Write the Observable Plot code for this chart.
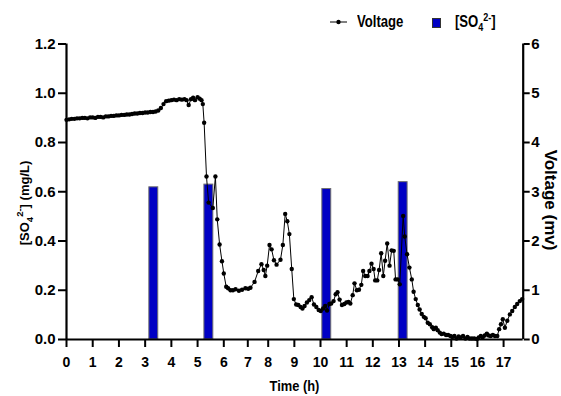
<!DOCTYPE html>
<html><head><meta charset="utf-8">
<script src="https://cdn.jsdelivr.net/npm/d3@7"></script>
<script src="https://cdn.jsdelivr.net/npm/@observablehq/plot@0.6"></script>
<style>
body{margin:0;background:#fff;}
#wrap{position:relative;width:561px;height:396px;overflow:hidden;font-family:"Liberation Sans",Arial,sans-serif;font-weight:bold;color:#000;}
.lg{position:absolute;font-size:16px;line-height:16px;white-space:nowrap;transform:scaleX(0.82);transform-origin:0 0;}
.lg sub,.lg sup{font-size:11px;line-height:0;}
</style></head>
<body><div id="wrap"></div>
<script>
// Sulfate concentration bars
const barTime = [3.33, 5.43, 10.24, 13.16];
const barSO4  = [0.618, 0.629, 0.611, 0.639];

// Voltage series (mV)
const voltTime = [
 0,0.1,0.2,0.3,0.4,0.5,0.6,0.7,0.8,0.9,1.0,1.1,1.2,1.3,1.4,1.5,1.6,1.7,1.8,1.9,
 2.0,2.1,2.2,2.3,2.4,2.5,2.6,2.7,2.8,2.9,3.0,3.1,3.2,3.3,3.4,3.5,3.6,3.7,3.8,3.9,
 4.0,4.1,4.2,4.3,4.4,4.5,4.58,4.66,4.75,4.83,4.9,5.0,5.08,5.15,5.2,5.25,5.34,5.42,5.58,5.68,
 5.75,5.84,5.93,6.0,6.1,6.18,6.28,6.38,6.49,6.63,6.76,6.9,7.02,7.13,7.33,7.51,7.67,7.78,7.86,7.95,
 8.05,8.13,8.22,8.32,8.47,8.56,8.65,8.73,8.81,8.9,8.98,9.07,9.15,9.24,9.31,9.39,9.48,9.57,9.66,9.75,
 9.84,9.93,10.01,10.1,10.18,10.25,10.34,10.41,10.5,10.58,10.65,10.73,10.82,10.91,10.99,11.07,11.14,11.23,11.3,11.39,
 11.47,11.56,11.63,11.71,11.8,11.87,11.95,12.03,12.09,12.17,12.24,12.32,12.4,12.47,12.55,12.64,12.72,12.8,12.87,12.95,
 13.03,13.16,13.22,13.31,13.4,13.49,13.56,13.64,13.72,13.79,13.87,13.95,14.02,14.1,14.18,14.27,14.33,14.41,14.48,14.56,
 14.63,14.71,14.8,14.88,14.97,15.04,15.12,15.2,15.28,15.36,15.45,15.54,15.62,15.7,15.79,15.88,15.98,16.05,16.13,16.2,
 16.28,16.36,16.43,16.51,16.59,16.67,16.76,16.83,16.9,16.97,17.05,17.14,17.24,17.33,17.43,17.52,17.62,17.71
];
const voltValue = [
 4.46,4.47,4.48,4.48,4.49,4.49,4.50,4.50,4.49,4.51,4.51,4.50,4.52,4.52,4.51,4.53,4.53,4.54,4.54,4.55,
 4.55,4.56,4.56,4.57,4.57,4.58,4.59,4.59,4.60,4.60,4.61,4.61,4.62,4.62,4.63,4.65,4.70,4.78,4.84,4.85,
 4.86,4.87,4.86,4.88,4.87,4.88,4.86,4.76,4.88,4.91,4.86,4.92,4.89,4.86,4.78,4.40,3.31,2.78,2.67,3.31,
 2.44,1.93,1.59,1.34,1.07,1.04,1.00,1.00,1.02,0.99,1.01,1.04,1.03,1.05,1.17,1.39,1.53,1.41,1.29,1.50,
 1.92,1.83,1.61,1.52,1.62,1.92,2.55,2.40,2.14,1.43,0.82,0.71,0.70,0.66,0.63,0.68,0.75,0.80,0.86,0.71,
 0.66,0.60,0.58,0.63,0.68,0.59,0.72,0.73,0.78,0.92,0.96,0.81,0.70,0.72,0.75,0.76,0.73,0.90,1.14,1.00,
 1.01,1.11,1.39,1.29,1.29,1.39,1.54,1.43,1.20,1.20,1.41,1.75,1.29,1.60,1.95,1.50,1.81,1.80,1.22,1.22,
 1.12,2.51,2.09,1.73,1.46,1.22,0.97,0.82,0.70,0.61,0.52,0.46,0.43,0.34,0.31,0.25,0.21,0.24,0.19,0.14,
 0.11,0.12,0.09,0.09,0.07,0.05,0.07,0.02,0.06,0.04,0.07,0.02,0.05,0.02,0.02,0.02,0.01,0.04,0.07,0.04,
 0.08,0.12,0.08,0.07,0.09,0.07,0.07,0.21,0.31,0.41,0.24,0.38,0.51,0.58,0.66,0.72,0.78,0.82
];

const xTicks = [0,1,2,3,4,5,6,7,8,9,10,11,12,13,14,15,16,17];
const leftTicks = [0,0.2,0.4,0.6,0.8,1.0,1.2];
const rightTicks = [0,1,2,3,4,5,6];
const voltPerUnit = 5; // 6 mV on the right axis = 1.2 mg/L on the left
const xMax = 17.75;

const bars = barTime.map((t,i)=>({t, v: barSO4[i]}));
const volt = voltTime.map((t,i)=>({t, v: voltValue[i]/voltPerUnit}));

const W = 561, H = 396, mL = 66, mR = 38.3, mT = 43.5, mB = 57;
const font = '"Liberation Sans",Arial,sans-serif';

const chart = Plot.plot({
  width: W, height: H,
  marginLeft: mL, marginRight: mR, marginTop: mT, marginBottom: mB,
  style: {fontFamily: font, fontWeight: "bold", fontSize: "15px", color: "#000", background: "#fff", overflow: "visible"},
  x: {type: "linear", domain: [0, 6, 7, 8, xMax], range: [66, 223.3, 247.3, 267.7, W - mR]},
  y: {domain: [0, 1.2], range: [H - mB, mT]},
  marks: [
    Plot.rect(bars, {x1: d => d.t - 0.17, x2: d => d.t + 0.17, y1: 0, y2: "v", fill: "#0000c4", stroke: "#6e6e6e", strokeWidth: 1}),
    Plot.line(volt, {x: "t", y: "v", stroke: "#000", strokeWidth: 1}),
    Plot.dot(volt, {x: "t", y: "v", r: 2.2, fill: "#000", stroke: "none"}),
    Plot.ruleX([0], {y1: 0, y2: 1.2, stroke: "#000", strokeWidth: 2.2}),
    Plot.ruleX([xMax], {y1: 0, y2: 1.2, stroke: "#000", strokeWidth: 2.2}),
    Plot.ruleY([0], {x1: 0, x2: xMax, stroke: "#000", strokeWidth: 2.2}),
    Plot.axisY({anchor: "left", ticks: leftTicks, tickFormat: d3.format(".1f"), tickSize: 8, tickPadding: 3, strokeWidth: 2, label: null, fontSize: 15}),
    Plot.axisY({anchor: "right", ticks: rightTicks.map(v => v / voltPerUnit), tickFormat: d => String(Math.round(d * voltPerUnit)), tickSize: 6, tickPadding: 2, strokeWidth: 2, label: null, fontSize: 15}),
    Plot.axisX({ticks: xTicks, tickSize: 8, tickPadding: 10, strokeWidth: 2, label: null, fontSize: 14})
  ]
});
document.getElementById("wrap").appendChild(chart);

// axis titles
const svg = d3.select(chart);
svg.append("text").attr("transform", "translate(294.5,391) scale(0.92,1)").attr("text-anchor", "middle")
  .attr("font-size", 14).attr("font-weight", "bold").attr("font-family", font).text("Time (h)");

const lt = svg.append("text").attr("transform", "translate(28.5,203) rotate(-90)").attr("text-anchor", "middle")
  .attr("font-size", 13).attr("font-weight", "bold").attr("font-family", font);
lt.append("tspan").text("[SO");
lt.append("tspan").attr("font-size", 9.5).attr("dy", 4).text("4");
lt.append("tspan").attr("font-size", 9.5).attr("dy", -9.5).text("2-");
lt.append("tspan").attr("dy", 5.5).text("] (mg/L)");

svg.append("text").attr("transform", "translate(545,200) rotate(90)").attr("text-anchor", "middle")
  .attr("font-size", 17).attr("font-weight", "bold").attr("font-family", font).text("Voltage (mv)");

// legend
const wrap = document.getElementById("wrap");
const lsvg = d3.select(wrap).append("svg").attr("width", 20).attr("height", 10)
  .style("position", "absolute").style("left", "329px").style("top", "17px");
lsvg.append("line").attr("x1", 1).attr("x2", 18).attr("y1", 5).attr("y2", 5).attr("stroke", "#000").attr("stroke-width", 1);
lsvg.append("circle").attr("cx", 9.5).attr("cy", 5).attr("r", 2.2).attr("fill", "#000");
const l1 = document.createElement("div"); l1.className = "lg"; l1.style.left = "357px"; l1.style.top = "14px"; l1.textContent = "Voltage"; wrap.appendChild(l1);
const sq = document.createElement("div"); sq.style.cssText = "position:absolute;left:432px;top:18px;width:7px;height:8px;background:#0000c4;border:1px solid #333;"; wrap.appendChild(sq);
const l2 = document.createElement("div"); l2.className = "lg"; l2.style.left = "455px"; l2.style.top = "14px"; l2.innerHTML = "[SO<sub>4</sub><sup>2-</sup>]"; wrap.appendChild(l2);
</script>
</body></html>
